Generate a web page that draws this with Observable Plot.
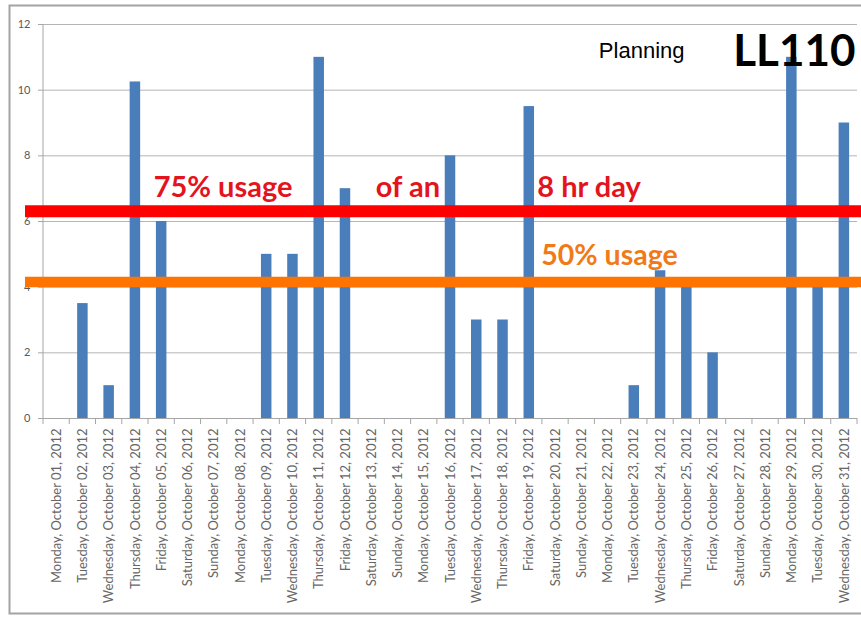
<!DOCTYPE html>
<html>
<head>
<meta charset="utf-8">
<script src="https://cdn.jsdelivr.net/npm/d3@7"></script>
<script src="https://cdn.jsdelivr.net/npm/@observablehq/plot@0.6"></script>
<style>
  html, body { margin: 0; padding: 0; background: #fff; }
</style>
</head>
<body>
<div id="chart"></div>
<script>
const days = [
  "Monday, October 01, 2012", "Tuesday, October 02, 2012", "Wednesday, October 03, 2012",
  "Thursday, October 04, 2012", "Friday, October 05, 2012", "Saturday, October 06, 2012",
  "Sunday, October 07, 2012", "Monday, October 08, 2012", "Tuesday, October 09, 2012",
  "Wednesday, October 10, 2012", "Thursday, October 11, 2012", "Friday, October 12, 2012",
  "Saturday, October 13, 2012", "Sunday, October 14, 2012", "Monday, October 15, 2012",
  "Tuesday, October 16, 2012", "Wednesday, October 17, 2012", "Thursday, October 18, 2012",
  "Friday, October 19, 2012", "Saturday, October 20, 2012", "Sunday, October 21, 2012",
  "Monday, October 22, 2012", "Tuesday, October 23, 2012", "Wednesday, October 24, 2012",
  "Thursday, October 25, 2012", "Friday, October 26, 2012", "Saturday, October 27, 2012",
  "Sunday, October 28, 2012", "Monday, October 29, 2012", "Tuesday, October 30, 2012",
  "Wednesday, October 31, 2012"
];
const hours = [0, 3.5, 1, 10.25, 6, 0, 0, 0, 5, 5, 11, 7, 0, 0, 0, 8, 3, 3, 9.5, 0, 0, 0, 1, 4.5, 4, 2, 0, 0, 11, 4, 9];
const yTicks = [0, 2, 4, 6, 8, 10, 12];
const line75 = 6.31;   // drawn "75% usage" bar, as it appears in the picture
const line50 = 4.16;   // drawn "50% usage" bar

const data = days.map((d, i) => ({day: d, hours: hours[i]}));

const W = 861, H = 619;
const ML = 43, MR = 4, MT = 24, MB = 201;
const FONT = "Lato, 'Open Sans', sans-serif";

// y axis line + category boundary tick marks (Excel style), drawn from the scales
function axisLines(index, scales, values, dimensions) {
  const x = scales.x, y = scales.y;
  const bw = x.bandwidth ? x.bandwidth() : 0;
  const step = x.step ? x.step() : bw;
  const g = d3.create("svg:g");
  const y0 = y(0);
  g.append("line").attr("x1", dimensions.marginLeft).attr("x2", dimensions.marginLeft)
    .attr("y1", y(12)).attr("y2", y0).attr("stroke", "#a6a6a6").attr("stroke-width", 1);
  const pos = days.map(d => x(d) + bw / 2 - step / 2);
  pos.push(x(days[days.length - 1]) + bw / 2 + step / 2);
  for (const p of pos) {
    g.append("line").attr("x1", p).attr("x2", p).attr("y1", y0).attr("y2", y0 + 6)
      .attr("stroke", "#a6a6a6").attr("stroke-width", 1);
  }
  return g.node();
}

const chart = Plot.plot({
  width: W,
  height: H,
  marginLeft: ML,
  marginRight: MR,
  marginTop: MT,
  marginBottom: MB,
  style: {fontFamily: FONT, background: "#fff", overflow: "visible"},
  x: {domain: days, paddingInner: 0.6, paddingOuter: 0.3, round: false, label: null},
  y: {domain: [0, 12], label: null},
  marks: [
    // outer border
    Plot.frame({stroke: "#a3a3a3", strokeWidth: 2, insetLeft: -34, insetTop: -19, insetBottom: -195, insetRight: -30}),
    // gridlines
    Plot.gridY(yTicks.filter(v => v > 0), {stroke: "#b5b5b5", strokeOpacity: 1, strokeWidth: 1}),
    Plot.axisY(yTicks, {
      tickSize: 5, tickPadding: 8, fontSize: 11, fill: "#595959", stroke: "#a6a6a6",
      tickFormat: d => d, label: null
    }),
    Plot.axisX({
      tickSize: 0, tickPadding: 10, tickRotate: -90, fontSize: 13, fill: "#666666", label: null
    }),
    axisLines,
    Plot.barY(data, {x: "day", y: "hours", fill: "#4a7ebb"}),
    Plot.ruleY([0], {stroke: "#a6a6a6"}),
    // usage bars
    Plot.ruleY([line75], {stroke: "#ff0000", strokeWidth: 12, insetLeft: -18, insetRight: -10}),
    Plot.ruleY([line50], {stroke: "#ff7300", strokeWidth: 10.5, insetLeft: -18, insetRight: -10}),
    // annotations
    Plot.text(["75% usage"], {x: () => days[4], y: () => 6.76, dx: -8, text: d => d, textAnchor: "start",
      lineAnchor: "bottom", fontSize: 29, fontWeight: "bold", fill: "#e3141d"}),
    Plot.text(["of an"], {x: () => days[12], y: () => 6.76, dx: 4, text: d => d, textAnchor: "start",
      lineAnchor: "bottom", fontSize: 29, fontWeight: "bold", fill: "#e3141d"}),
    Plot.text(["8 hr day"], {x: () => days[18], y: () => 6.76, dx: 8, text: d => d, textAnchor: "start",
      lineAnchor: "bottom", fontSize: 29, fontWeight: "bold", fill: "#e3141d"}),
    Plot.text(["50% usage"], {x: () => days[18], y: () => 4.66, dx: 12, text: d => d, textAnchor: "start",
      lineAnchor: "bottom", fontSize: 28.5, fontWeight: "bold", fill: "#f07a1a"}),
    Plot.text(["Planning"], {frameAnchor: "top-right", dx: -173, dy: 33, text: d => d, textAnchor: "end",
      lineAnchor: "bottom", fontSize: 22, fill: "#000", fontFamily: "'Liberation Sans', Arial, sans-serif"}),
    Plot.text(["LL110"], {frameAnchor: "top-right", dx: -2, dy: 41, text: d => d, textAnchor: "end",
      lineAnchor: "bottom", fontSize: 44, fontWeight: "bold", fill: "#000"})
  ]
});
document.getElementById("chart").appendChild(chart);
</script>
</body>
</html>
